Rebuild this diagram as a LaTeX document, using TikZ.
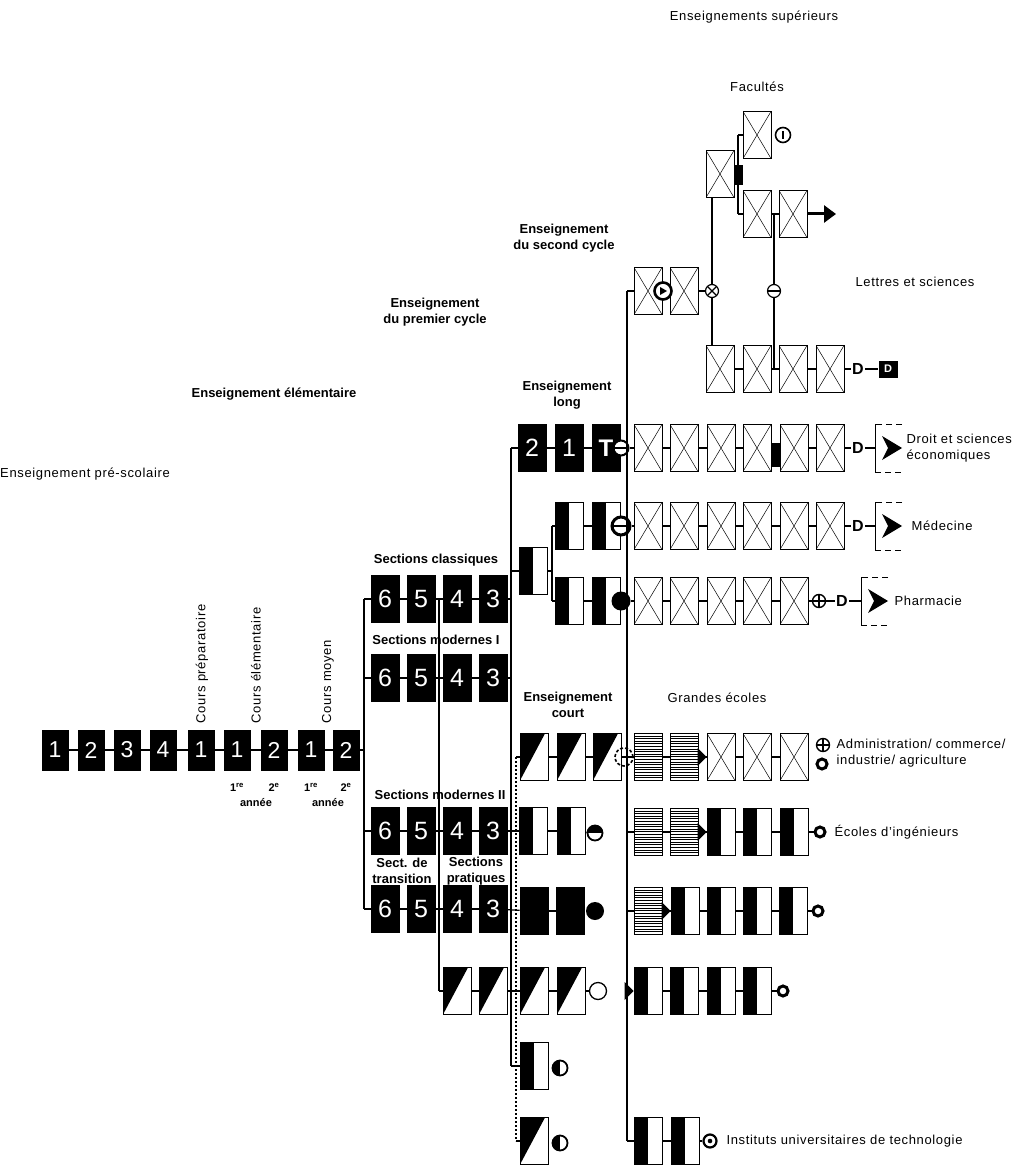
\documentclass[tikz,border=0pt]{standalone}
\usepackage{fontspec}
\setmainfont{Liberation Sans}
\newfontfamily\spc[LetterSpace=5]{Liberation Sans}
\usetikzlibrary{arrows.meta}

\tikzset{
  every picture/.style={line width=1.2pt},
  cell/.style={draw, line width=0.8pt, minimum width=28pt, minimum height=47pt, inner sep=0pt},
  blkcell/.style={cell, fill=black, text=white, font=\fontsize{25}{25}\selectfont},
  ecell/.style={blkcell, minimum width=26pt, minimum height=40pt, font=\fontsize{23}{23}\selectfont},
  xcell/.style={cell, fill=white, path picture={
      \draw[black, line width=0.5pt] (path picture bounding box.south west) -- (path picture bounding box.north east)
        (path picture bounding box.north west) -- (path picture bounding box.south east);}},
  halfcell/.style={cell, fill=white, path picture={
      \fill[black] (path picture bounding box.south west) rectangle (path picture bounding box.north);}},
  diagcell/.style={cell, fill=white, path picture={
      \fill[black] (path picture bounding box.south west) -- (path picture bounding box.north west)
        -- ([xshift=-3pt]path picture bounding box.north east) -- cycle;}},
  hatchcell/.style={cell, fill=white, path picture={
      \foreach \k in {1,...,18}
        \draw[black, line width=0.9pt] ([yshift={-2.6pt*\k}]path picture bounding box.north west) -- ++(30,0);}},
  lbl/.style={font=\spc\fontsize{13}{16}\selectfont, align=center, inner sep=0pt},
  hdr/.style={font=\bfseries\fontsize{13}{15.5}\selectfont, align=center, inner sep=0pt},
  yr/.style={font=\bfseries\fontsize{11}{12}\selectfont, inner sep=0pt},
  dlet/.style={font=\bfseries\fontsize{16}{16}\selectfont, inner sep=1pt},
  dbox/.style={fill=black, text=white, font=\bfseries\fontsize{11}{11}\selectfont, minimum width=19pt, minimum height=17pt, inner sep=0pt},
  ring/.style={circle, draw, fill=white, line width=3pt, minimum size=10pt, inner sep=0pt},
  ringdot/.style={circle, draw, fill=white, line width=2.2pt, minimum size=13pt, inner sep=0pt,
      path picture={\fill[black] (path picture bounding box.center) circle (2.3pt);}},
  pluss/.style={circle, draw, fill=white, line width=1.4pt, minimum size=13pt, inner sep=0pt,
      path picture={\draw[black, line width=1.4pt] (path picture bounding box.north) -- (path picture bounding box.south)
        (path picture bounding box.west) -- (path picture bounding box.east);}},
  xsym/.style={circle, draw, fill=white, line width=1.2pt, minimum size=13pt, inner sep=0pt,
      path picture={\draw[black] (path picture bounding box.north west) -- (path picture bounding box.south east)
        (path picture bounding box.south west) -- (path picture bounding box.north east);}},
  msign/.style={circle, draw, fill=white, line width=1.2pt, minimum size=13pt, inner sep=0pt,
      path picture={\draw[black, line width=1.6pt] (path picture bounding box.west) -- (path picture bounding box.east);}},
  isym/.style={circle, draw, fill=white, line width=1.6pt, minimum size=15pt, inner sep=0pt,
      path picture={\draw[black, line width=1.6pt] ([yshift=4pt]path picture bounding box.center) -- ([yshift=-4pt]path picture bounding box.center);}},
  csym/.style={circle, draw, fill=white, line width=2.6pt, minimum size=17pt, inner sep=0pt,
      path picture={\fill[black] ([xshift=-3pt,yshift=4pt]path picture bounding box.center) -- ([xshift=4pt]path picture bounding box.center)
        -- ([xshift=-3pt,yshift=-4pt]path picture bounding box.center) -- cycle;}},
  tsym/.style={circle, draw, fill=white, line width=2pt, minimum size=15pt, inner sep=0pt,
      path picture={\draw[black, line width=1.2pt] (path picture bounding box.west) -- (path picture bounding box.east);
        \draw[black, line width=1.2pt] ([xshift=6pt]path picture bounding box.north) -- ([xshift=6pt]path picture bounding box.south);}},
  msym/.style={tsym, line width=3pt, minimum size=18pt},
  psym/.style={circle, fill=black, minimum size=19pt, inner sep=0pt},
  dsym/.style={circle, draw, dash pattern=on 3pt off 2pt, line width=1.6pt, minimum size=18pt, inner sep=0pt},
  dotsym/.style={circle, fill=black, minimum size=18pt, inner sep=0pt},
  opensym/.style={circle, draw, fill=white, line width=1.3pt, minimum size=17pt, inner sep=0pt},
  halfsym/.style={circle, draw, fill=white, line width=1.8pt, minimum size=15pt, inner sep=0pt,
      path picture={\fill[black] (path picture bounding box.south) rectangle (path picture bounding box.north west);}},
  tophalf/.style={circle, draw, fill=white, line width=1.8pt, minimum size=15pt, inner sep=0pt,
      path picture={\fill[black] (path picture bounding box.west) rectangle (path picture bounding box.north east);}},
  blkbar/.style={fill=black, minimum width=9pt, inner sep=0pt},
  brk/.pic={
    \draw[line width=1pt, dash pattern=on 6pt off 4pt] (27,-24) -- (0,-24);
    \draw[line width=1pt] (0,-24) -- (0,24);
    \draw[line width=1pt, dash pattern=on 6pt off 4pt] (0,24) -- (27,24);
    \fill (7,-12) -- (27,0) -- (7,12) -- (13,0) -- cycle;},
}

\begin{document}
\begin{tikzpicture}[x=1pt, y=-1pt]
\useasboundingbox (0,0) rectangle (1022,1166);

% titres
\node[lbl] (tsup) at (754,17) {Enseignements supérieurs};
\node[lbl] (tfac) at (757,87) {Facultés};
\node[hdr] (tsec) at (564,238) {Enseignement\\du second cycle};
\node[lbl] (tlet) at (915,282) {Lettres et sciences};
\node[hdr] (tprem) at (435,312) {Enseignement\\du premier cycle};
\node[hdr] (telem) at (274,394) {Enseignement élémentaire};
\node[lbl] (tpre) at (85,474) {Enseignement pré-scolaire};
\node[hdr] (tlong) at (567,395) {Enseignement\\long};
\node[hdr] (tcla) at (436,560) {Sections classiques};
\node[hdr] (tmo1) at (436,640) {Sections modernes I};
\node[hdr] (tcourt) at (568,705) {Enseignement\\court};
\node[lbl] (tge) at (717,698) {Grandes écoles};
\node[hdr] (tmo2) at (440,795) {Sections modernes II};
\node[hdr] (ttra) at (402,871) {Sect. de\\transition};
\node[hdr] (tpra) at (476,871) {Sections\\pratiques};

% troncs
\coordinate (ta1) at (364,599); \coordinate (ta2) at (364,909);
\coordinate (tb1) at (439,599); \coordinate (tb2) at (439,991);
\coordinate (tc1) at (511,448); \coordinate (tc2) at (511,1066);
\coordinate (td1) at (627,291); \coordinate (td2) at (627,1141);
\coordinate (dt1) at (516,757); \coordinate (dt2) at (516,1141);
\draw (ta1) -- (ta2);
\draw (tb1) -- (tb2);
\draw (tc1) -- (tc2);
\draw (td1) -- (td2);
\draw[line width=2.2pt, dash pattern=on 2pt off 2pt] (dt1) -- (dt2);

% enseignement elementaire
\foreach \n/\x/\t in {1/55/1,2/91/2,3/127/3,4/163/4,5/201/1,6/237/1,7/274/2,8/311/1,9/346/2}
  \node[ecell] (e\n) at (\x,750) {\t};
\foreach \a/\b in {1/2,2/3,3/4,4/5,5/6,6/7,7/8,8/9}
  \draw (e\a) -- (e\b);
\draw (e9) -- (e9 -| ta1);
\node[lbl, rotate=90, anchor=west] (cprep) at (202,724) {Cours préparatoire};
\node[lbl, rotate=90, anchor=west] (celem) at (256,724) {Cours élémentaire};
\node[lbl, rotate=90, anchor=west] (cmoy) at (328,724) {Cours moyen};
\node[yr] (y1) at (237,787) {1\textsuperscript{re}};
\node[yr] (y2) at (274,787) {2\textsuperscript{e}};
\node[yr] (y3) at (311,787) {1\textsuperscript{re}};
\node[yr] (y4) at (346,787) {2\textsuperscript{e}};
\node[yr] (an1) at (256,803) {année};
\node[yr] (an2) at (328,803) {année};

% premier cycle
\foreach \r/\y in {cl/599, ma/678, mb/831, tr/909}
  \foreach \c/\x in {6/385,5/421,4/457,3/493}
    \node[blkcell] (\r\c) at (\x,\y) {\c};
\foreach \r in {cl,ma,mb,tr} {
  \draw (ta1 |- \r6) -- (\r6);
  \draw (\r6) -- (\r5);
  \draw (\r5) -- (\r4);
  \draw (\r4) -- (\r3);
}
\node[diagcell] (pd4) at (457,991) {};
\node[diagcell] (pd3) at (493,991) {};
\draw (tb2) -- (pd4);
\draw (pd4) -- (pd3);
\draw (cl3) -- (cl3 -| tc1);
\draw (ma3) -- (ma3 -| tc1);

% enseignement long
\node[blkcell] (lg2) at (532,448) {2};
\node[blkcell] (lg1) at (569,448) {1};
\node[blkcell, font=\bfseries\fontsize{24}{24}\selectfont] (lgT) at (606,448) {T};
\draw (tc1) -- (lg2);
\draw (lg2) -- (lg1);
\draw (lg1) -- (lgT);
\node[halfcell] (mq0) at (533,571) {};
\node[halfcell] (med1) at (569,526) {};
\node[halfcell] (med2) at (606,526) {};
\node[halfcell] (pha1) at (569,601) {};
\node[halfcell] (pha2) at (606,601) {};
\coordinate (bk) at (552,571);
\draw (mq0 -| tc1) -- (mq0);
\draw (mq0) -- (bk);
\draw (bk |- med1) -- (bk |- pha1);
\draw (bk |- med1) -- (med1);
\draw (bk |- pha1) -- (pha1);
\draw (med1) -- (med2);
\draw (pha1) -- (pha2);

% enseignement court
\node[diagcell] (ct1) at (534,757) {};
\node[diagcell] (ct2) at (571,757) {};
\node[diagcell] (ct3) at (607,757) {};
\draw (dt1) -- (ct1);
\draw (ct1) -- (ct2);
\draw (ct2) -- (ct3);
\node[halfcell] (mh1) at (533,831) {};
\node[halfcell] (mh2) at (571,831) {};
\node[tophalf] (smh) at (595,833) {};
\draw (mb3) -- (mh1);
\draw (mh1) -- (mh2);
\draw (mh2) -- (smh);
\node[blkcell] (pk1) at (534,911) {};
\node[blkcell] (pk2) at (570,911) {};
\node[dotsym] (spk) at (595,911) {};
\draw (tr3) -- (pk1);
\draw (pk1) -- (pk2);
\node[diagcell] (pj1) at (534,991) {};
\node[diagcell] (pj2) at (571,991) {};
\node[opensym] (spj) at (598,991) {};
\draw (pd3) -- (pj1);
\draw (pj1) -- (pj2);
\draw (pj2) -- (spj);
\node[halfcell] (iu1) at (534,1066) {};
\node[halfsym] (siu1) at (560,1068) {};
\draw (tc2) -- (iu1);
\node[diagcell] (iu2) at (534,1141) {};
\node[halfsym] (siu2) at (560,1143) {};
\draw (dt2) -- (iu2);

% second cycle et facultes
\node[xcell] (sc1) at (648,291) {};
\node[xcell] (sc2) at (684,291) {};
\draw (td1) -- (sc1);
\draw (sc1) -- (sc2);
\node[csym] (cc) at (663,291) {};
\node[xsym] (ox) at (712,291) {};
\draw (sc2) -- (ox);
\node[xcell] (fa0) at (720,174) {};
\node[xcell] (fa1) at (757,135) {};
\node[xcell] (fa2) at (757,214) {};
\node[xcell] (fa3) at (793,214) {};
\node[isym] (ci) at (783,135) {};
\coordinate (fb1) at (738,135);
\coordinate (fb2) at (738,214);
\draw (fb1) -- (fb2);
\draw (fb1) -- (fa1);
\draw (fb2) -- (fa2);
\node[blkbar, minimum height=20pt] (fblk) at (738,175) {};
\draw (fa2) -- (fa3);
\coordinate (farr) at (836,214);
\draw[line width=3pt, -{Triangle[length=12pt, width=17pt]}] (fa3) -- (farr);

% lettres et sciences
\foreach \n/\x in {1/720,2/757,3/793,4/830}
  \node[xcell] (lt\n) at (\x,369) {};
\foreach \a/\b in {1/2,2/3,3/4}
  \draw (lt\a) -- (lt\b);
\node[dlet] (dl) at (858,369) {D};
\node[dbox] (dq) at (888,369) {D};
\draw (lt4) -- (dl);
\draw (dl) -- (dq);
\draw (ox) -- (ox |- fa0.south);
\draw (ox) -- (ox |- lt1.north);
\node[msign] (om) at (774,291) {};
\draw (om) -- (om |- fa2);
\draw (om) -- (om |- lt2);

% droit, medecine, pharmacie
\foreach \n/\x in {1/648,2/684,3/721,4/757,5/794,6/830} {
  \node[xcell] (dr\n) at (\x,448) {};
  \node[xcell] (md\n) at (\x,526) {};
}
\foreach \n/\x in {1/648,2/684,3/721,4/757,5/794}
  \node[xcell] (ph\n) at (\x,601) {};
\foreach \a/\b in {1/2,2/3,3/4,4/5,5/6} {
  \draw (dr\a) -- (dr\b);
  \draw (md\a) -- (md\b);
}
\foreach \a/\b in {1/2,2/3,3/4,4/5}
  \draw (ph\a) -- (ph\b);
\node[blkbar, minimum height=24pt] (drblk) at (775,455) {};
\node[tsym] (cT) at (621,448) {};
\node[msym] (cM) at (621,526) {};
\node[psym] (cP) at (621,601) {};
\draw (cT) -- (dr1);
\draw (cM) -- (md1);
\draw (cP) -- (ph1);
\node[dlet] (ddr) at (858,448) {D};
\node[dlet] (dmd) at (858,526) {D};
\node[pluss] (pp) at (819,601) {};
\node[dlet] (dph) at (842,601) {D};
\draw (dr6) -- (ddr);
\draw (md6) -- (dmd);
\draw (ph5) -- (pp);
\draw (pp) -- (dph);
\coordinate (bdr) at (875,448);
\coordinate (bmd) at (875,526);
\coordinate (bph) at (861,601);
\draw (ddr) -- (bdr);
\draw (dmd) -- (bmd);
\draw (dph) -- (bph);
\pic at (bdr) {brk};
\pic at (bmd) {brk};
\pic at (bph) {brk};
\node[lbl, anchor=west, align=left] (tdr) at (906,448) {Droit et sciences\\économiques};
\node[lbl, anchor=west] (tmd) at (911,526) {Médecine};
\node[lbl, anchor=west] (tph) at (894,601) {Pharmacie};

% grandes ecoles
\node[hatchcell] (ga1) at (648,757) {};
\node[hatchcell] (ga2) at (684,757) {};
\node[xcell] (ga3) at (721,757) {};
\node[xcell] (ga4) at (757,757) {};
\node[xcell] (ga5) at (794,757) {};
\draw (ct3) -- (ga1);
\node[dsym] (cC) at (624,757) {};
\draw (ga1) -- (ga2);
\draw (ga2) -- (ga3);
\draw (ga3) -- (ga4);
\draw (ga4) -- (ga5);
\fill (ga3.west) ++(-9,-9) -- (ga3.west) -- ++(-9,9) -- cycle;
\node[pluss] (gap) at (823,745) {};
\node[ring] (gar) at (822,764) {};
\node[lbl, anchor=west, align=left] (tga) at (836,753) {Administration/ commerce/\\industrie/ agriculture};

\node[hatchcell] (gi1) at (648,832) {};
\node[hatchcell] (gi2) at (684,832) {};
\foreach \n/\x in {3/721,4/757,5/794}
  \node[halfcell] (gi\n) at (\x,832) {};
\draw (gi1 -| td1) -- (gi1);
\foreach \a/\b in {1/2,2/3,3/4,4/5}
  \draw (gi\a) -- (gi\b);
\fill (gi3.west) ++(-9,-9) -- (gi3.west) -- ++(-9,9) -- cycle;
\node[ring] (gir) at (820,832) {};
\draw (gi5) -- (gir);
\node[lbl, anchor=west] (tgi) at (834,832) {Écoles d’ingénieurs};

\node[hatchcell] (gk1) at (648,911) {};
\foreach \n/\x in {2/685,3/721,4/757,5/793}
  \node[halfcell] (gk\n) at (\x,911) {};
\draw (gk1 -| td1) -- (gk1);
\foreach \a/\b in {1/2,2/3,3/4,4/5}
  \draw (gk\a) -- (gk\b);
\fill (gk2.west) ++(-9,-9) -- (gk2.west) -- ++(-9,9) -- cycle;
\node[ring] (gkr) at (818,911) {};
\draw (gk5) -- (gkr);

\foreach \n/\x in {1/648,2/684,3/721,4/757}
  \node[halfcell] (gj\n) at (\x,991) {};
\foreach \a/\b in {1/2,2/3,3/4}
  \draw (gj\a) -- (gj\b);
\fill (gj1.west) ++(-9,-9) -- (gj1.west) -- ++(-9,9) -- cycle;
\node[ring] (gjr) at (783,991) {};
\draw (gj4) -- (gjr);

\node[halfcell] (gu1) at (648,1141) {};
\node[halfcell] (gu2) at (685,1141) {};
\draw (td2) -- (gu1);
\draw (gu1) -- (gu2);
\node[ringdot] (gur) at (710,1141) {};
\draw (gu2) -- (gur);
\node[lbl, anchor=west] (tgu) at (726,1141) {Instituts universitaires de technologie};
\end{tikzpicture}
\end{document}
